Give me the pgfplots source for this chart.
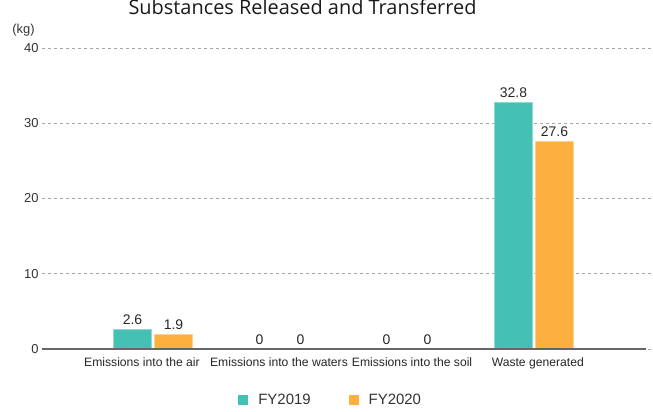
\documentclass[border=0pt]{standalone}
\usepackage{fontspec}
\setmainfont{Liberation Sans}
\newfontfamily\titlefont{Open Sans}
\usepackage{pgfplots}
\pgfplotsset{compat=1.18}
\definecolor{cteal}{HTML}{45C0B5}
\definecolor{corange}{HTML}{FDB040}
\definecolor{txt}{HTML}{333333}
\begin{document}
\begin{tikzpicture}
\path[use as bounding box] (-42bp,-63bp) rectangle (611bp,349bp);
\begin{axis}[
  scale only axis,
  width=611bp, height=301bp,
  xmin=-0.874, xmax=3.937,
  ymin=0, ymax=40,
  ytick={0,10,20,30,40},
  xtick={-0.087,0.992,2.04,3.03},
  xticklabels={Emissions into the air,Emissions into the waters,Emissions into the soil,Waste generated},
  axis line style={draw=none},
  ymajorgrids,
  major grid style={gray!70, dash pattern=on 3bp off 3bp, line width=0.6bp},
  major tick length=0pt,
  ybar=3bp, bar width=38bp,
  /pgf/number format/assume math mode=true,
  yticklabel style={font=\fontsize{13}{15}\selectfont, text=txt},
  xticklabel style={font=\fontsize{12.2}{14}\selectfont, text=black!85, yshift=-5bp},
  nodes near coords,
  every node near coord/.append style={font=\fontsize{14}{16}\selectfont, text=black!85, yshift=1bp},
  legend columns=2,
  legend style={at={(0.4725,-0.169)}, anchor=center, draw=none, fill=none,
    font=\fontsize{15}{18}\selectfont, text=txt,
    /tikz/every even column/.append style={column sep=36bp}},
  clip=false,
]
\addplot[fill=cteal, draw=white!40!cteal, line width=0.5bp,
  legend image code/.code={\fill[cteal,draw=none] (0bp,-5bp) rectangle (10bp,5bp); \path[draw=none,fill=none] (0bp,0bp) rectangle (18bp,0bp);}]
  coordinates {(0,2.6) (1,0) (2,0) (3,32.8)};
\addplot[fill=corange, draw=white!40!corange, line width=0.5bp,
  legend image code/.code={\fill[corange,draw=none] (0bp,-5bp) rectangle (10bp,5bp); \path[draw=none,fill=none] (0bp,0bp) rectangle (18bp,0bp);}]
  coordinates {(0,1.9) (1,0) (2,0) (3,27.6)};
\legend{FY2019,FY2020}
\draw[black!60, line width=1.3bp] (axis cs:-0.874,0) -- (axis cs:3.88,0);
\end{axis}
\node[anchor=base, font=\titlefont\fontsize{20}{24}\selectfont, text=black!90] at (260.5bp,334bp) {Substances Released and Transferred};
\node[font=\fontsize{13}{15}\selectfont, text=txt] at (-18.5bp,319bp) {(kg)};
\end{tikzpicture}
\end{document}
